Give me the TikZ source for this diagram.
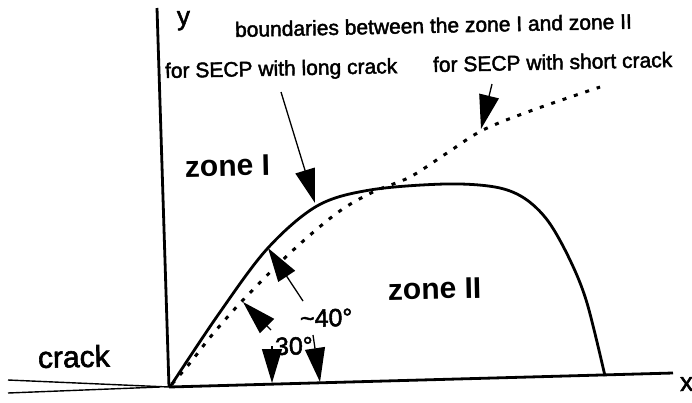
\documentclass[tikz,border=0pt]{standalone}
\usepackage{fontspec}
\setmainfont{Liberation Sans}
\newfontfamily\scanfont{Liberation Sans}[FakeBold=2]
\usetikzlibrary{arrows.meta}

\begin{document}
\begin{tikzpicture}[
    x=1pt, y=-1pt,
    lbl/.style={font=\scanfont\fontsize{21}{25}\selectfont, inner sep=0pt, anchor=base west, rotate=1.2},
    zonelbl/.style={font=\fontsize{30}{34}\selectfont\bfseries, inner sep=0pt, anchor=base west, rotate=1.2},
    anglelbl/.style={font=\scanfont\fontsize{25}{29}\selectfont, inner sep=0pt, anchor=base west, rotate=1.2},
    axisline/.style={line width=2.8pt},
    crackline/.style={line width=1.4pt},
    longbound/.style={line width=2.8pt, line join=round},
    shortbound/.style={line width=3pt, dash pattern=on 4pt off 8pt},
    pointer/.style={-{Triangle[length=34pt, width=20pt]}, line width=1.3pt}
]
\useasboundingbox (0,0) rectangle (692,402);

% axes and crack faces
\coordinate (O) at (169,387);
\coordinate (ytop) at (157,8);
\coordinate (xend) at (673,373);
\coordinate (crackup) at (8,380);
\coordinate (crackdn) at (8,393);
\coordinate (crackdnend) at (160,387);
\draw[axisline] (O) -- (ytop);
\draw[axisline] (O) -- (xend);
\draw[crackline] (crackup) -- (O);
\draw[crackline] (crackdn) -- (crackdnend);

% boundary for long crack (solid) and short crack (dotted)
\draw[longbound] plot[smooth, tension=0.55] coordinates {(170,387) (218,315) (267,249) (317,206) (370,190) (445,184) (495,187) (524,198) (548,221) (570,260) (587,303) (605,376)};
\draw[shortbound] plot[smooth, tension=0.55] coordinates {(172,384) (190,363) (212,335) (243,300) (290,253) (337,213) (373,192) (410,177) (447,153) (483,130) (533,110) (600,87)};

% labels
\node[lbl, font=\scanfont\fontsize{26}{30}\selectfont] (ylbl) at (177,25) {y};
\node[lbl, font=\scanfont\fontsize{26}{30}\selectfont] (xlbl) at (680,391) {x};
\node[lbl, font=\scanfont\fontsize{30}{34}\selectfont] (cracklbl) at (38,368) {crack};
\node[lbl] (boundlbl) at (235,37) {boundaries between the zone I and zone II};
\node[lbl] (longlbl) at (165,78) {for SECP with long crack};
\node[lbl] (shortlbl) at (433,72) {for SECP with short crack};
\node[zonelbl] (zoneone) at (185,177) {zone I};
\node[zonelbl] (zonetwo) at (388,300) {zone II};
\node[anglelbl] (fortylbl) at (300,327) {\textasciitilde 40°};
\node[anglelbl] (thirtylbl) at (275,355) {30°};

% pointers
\coordinate (longtail) at (281,92);
\coordinate (longtip) at (315,203);
\coordinate (shorttail) at (492,84);
\coordinate (shorttip) at (481,129);
\coordinate (fortytail) at (303,301);
\coordinate (fortytip) at (268,248);
\coordinate (thirtytail) at (271,330);
\coordinate (thirtytip) at (243,302);
\coordinate (lefttail) at (272,346);
\coordinate (lefttip) at (272,383);
\coordinate (righttail) at (313,335);
\coordinate (righttip) at (320,382);
\draw[pointer] (longtail) -- (longtip);
\draw[pointer] (shorttail) -- (shorttip);
\draw[pointer] (fortytail) -- (fortytip);
\draw[pointer] (thirtytail) -- (thirtytip);
\draw[pointer] (lefttail) -- (lefttip);
\draw[pointer] (righttail) -- (righttip);

\end{tikzpicture}
\end{document}
